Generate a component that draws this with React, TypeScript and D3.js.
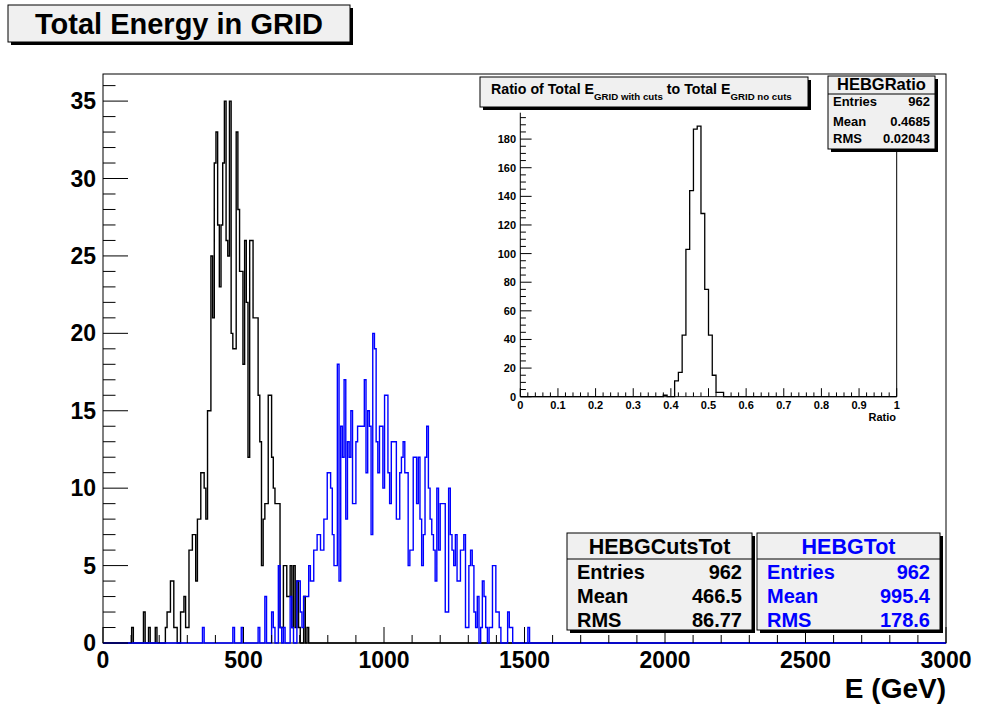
import React from 'react';
import * as d3 from 'd3';

const W = 982, H = 708;
const FONT = "'Liberation Sans', Arial, Helvetica, sans-serif";

// ---------- main histograms: 500 bins of 6 GeV over 0..3000 ----------
const BIN_W = 6;
const cutsStart = 102; // lower edge (GeV) of first listed bin
const cutsCounts = [
  1, 0, 0, 0, 0, 0, 0, 2, 0, 0, 1, 0, 0, 0, 1, 0, 0, 0, 0, 0, // 102..216
  1, 2, 2, 4, 4, 1, 1, 0, 0, 2, 2, 3, 1, 1, 6, 6, 7, 7, 4, 8, // 222..336
  8, 11, 11, 10, 8, 15, 15, 25, 21, 31, 33, 27, 23, 27, 31, 35, 26, 25, 35, 20, // 342..456
  19, 19, 33, 28, 24, 24, 18, 26, 22, 12, 26, 26, 21, 21, 21, 16, 13, 5, 8, 9, // 462..576
  9, 16, 16, 12, 10, 9, 9, 9, 1, 1, 5, 5, 3, 3, 5, 1, 5, 1, 4, 1, // 582..696
  0, 0, 3, 0, 1, // 702..726
];
const totStart = 354;
const totCounts = [
  1, 0, 0, 0, 0, 0, 0, 0, 0, 0, 0, 0, 0, 0, 0, 0, 0, 0, 1, 0, // 354..468
  0, 0, 0, 1, 0, 0, 0, 0, 0, 0, 0, 0, 0, 1, 0, 0, 0, 3, 0, 0, // 474..588
  0, 2, 1, 0, 0, 5, 1, 0, 1, 0, 0, 0, 3, 1, 0, 0, // 594..684
  4, 4, 2, 1, 3, 3, 3, 5, 4, 4, // 690..744
  6, 6, 7, 7, 6, 6, 8, 8, 11, 11, // 750..804
  10, 7, 5, 5, 18, 4, 14, 12, 17, 8, // 810..864
  13, 12, 15, 9, 9, 13, 14, 14, 14, 14, // 870..924
  17, 11, 15, 14, 7, 20, 19, 13, 11, 14, // 930..984
  14, 10, 16, 16, 11, 9, 13, 13, 13, 8, // 990..1044
  8, 11, 12, 13, 11, 11, 5, 6, 6, 12, // 1050..1104
  12, 9, 12, 8, 5, 7, 12, 14, 10, 8, // 1110..1164
  7, 6, 4, 10, 6, 9, 9, 9, 2, 2, // 1170..1224
  10, 7, 6, 5, 7, 4, 4, 6, 6, 7, // 1230..1284
  1, 1, 5, 6, 5, 2, 1, 3, 0, 1, // 1290..1344
  4, 3, 1, 0, 1, 1, 5, 5, 2, 2, // 1350..1404
  1, 0, 0, 0, 0, 2, 1, 1, 0, 0, // 1410..1464
  0, 0, 0, 0, 0, 0, 0, 1, // 1470..1512
];

// ---------- inset ratio histogram: 100 bins over 0..1 ----------
const RATIO_BIN_W = 0.01;
const ratioStart = 0.38;
const ratioCounts = [1, 0, 0, 11, 17, 43, 103, 144, 187, 189, 128, 75, 43, 15, 3, 3];

// ---------- ticks / labels ----------
const mainXTicks = [0, 500, 1000, 1500, 2000, 2500, 3000];
const mainYTicks = [0, 5, 10, 15, 20, 25, 30, 35];
const insetXTicks = [0, 0.1, 0.2, 0.3, 0.4, 0.5, 0.6, 0.7, 0.8, 0.9, 1];
const insetYTicks = [0, 20, 40, 60, 80, 100, 120, 140, 160, 180];

const statsCuts = [["Entries", "962"], ["Mean", "466.5"], ["RMS", "86.77"]];
const statsTot = [["Entries", "962"], ["Mean", "995.4"], ["RMS", "178.6"]];
const statsRatio = [["Entries", "962"], ["Mean", "0.4685"], ["RMS", "0.02043"]];

function histPath(start: number, counts: number[], bw: number, lo: number, hi: number,
  x: d3.ScaleLinear<number, number>, y: d3.ScaleLinear<number, number>) {
  const n = Math.round((hi - lo) / bw);
  const s0 = Math.round((start - lo) / bw);
  const p = d3.path();
  p.moveTo(x(lo), y(0));
  for (let i = 0; i < n; i++) {
    const v = i >= s0 && i - s0 < counts.length ? counts[i - s0] : 0;
    const a = lo + i * bw, b = lo + (i + 1) * bw;
    p.lineTo(x(a), y(v));
    p.lineTo(x(b), y(v));
  }
  p.lineTo(x(hi), y(0));
  return p.toString();
}

function StatsBox({ x, y, w, h, title, rows, color, titleSize, rowSize, sep, rowYs, titleY, pad }: any) {
  return (
    <g>
      <rect x={x + 3} y={y + 3} width={w} height={h} fill="#000" />
      <rect x={x} y={y} width={w} height={h} fill="#f0f0f0" stroke="#000" strokeWidth={1} />
      <line x1={x} x2={x + w} y1={sep} y2={sep} stroke="#000" strokeWidth={1} />
      <text x={x + w / 2} y={titleY} textAnchor="middle" fontSize={titleSize} fontWeight="bold" fill={color}>{title}</text>
      {rows.map((r: string[], i: number) => (
        <g key={i}>
          <text x={x + pad} y={rowYs[i]} fontSize={rowSize} fontWeight="bold" fill={color}>{r[0]}</text>
          <text x={x + w - pad} y={rowYs[i]} fontSize={rowSize} fontWeight="bold" fill={color} textAnchor="end">{r[1]}</text>
        </g>
      ))}
    </g>
  );
}

export default function App() {
  const L = 103, R = 946, T = 74, B = 643;
  const x = d3.scaleLinear().domain([0, 3000]).range([L, R]);
  const y = d3.scaleLinear().domain([0, 35 * 1.05]).range([B, T]);

  const iL = 520.3, iR = 896.7, iT = 112.7, iB = 396.7;
  const ix = d3.scaleLinear().domain([0, 1]).range([iL, iR]);
  const iy = d3.scaleLinear().domain([0, 189 * 1.05]).range([iB, iT]);

  const mainXMinor = d3.range(0, 3001, 100);
  const mainYMinor = d3.range(0, 37, 1);
  const insetXMinor = d3.range(0, 51).map((i) => i * 0.02);
  const insetYMinor = d3.range(0, 198, 5);

  return (
    <svg width={W} height={H} style={{ position: 'absolute', left: 0, top: 0, fontFamily: FONT }}>
      <rect x={0} y={0} width={W} height={H} fill="#fff" />

      {/* title box */}
      <rect x={11} y={8} width={342} height={37} fill="#000" />
      <rect x={8} y={5} width={342} height={37} fill="#f0f0f0" stroke="#000" />
      <text x={35} y={34} fontSize={29} fontWeight="bold">Total Energy in GRID</text>

      {/* main frame */}
      <rect x={L} y={T} width={R - L} height={B - T} fill="none" stroke="#000" strokeWidth={1} />

      {/* histograms */}
      <path d={histPath(cutsStart, cutsCounts, BIN_W, 0, 3000, x, y)} fill="none" stroke="#000" strokeWidth={1.4} />
      <path d={histPath(totStart, totCounts, BIN_W, 0, 3000, x, y)} fill="none" stroke="#0000ff" strokeWidth={1.4} />

      {/* main ticks */}
      {mainXMinor.map((v) => (
        <line key={'xm' + v} x1={x(v)} x2={x(v)} y1={B} y2={B - (v % 500 === 0 ? 16 : 8)} stroke="#000" />
      ))}
      {mainYMinor.map((v) => (
        <line key={'ym' + v} x1={L} x2={L + (v % 5 === 0 ? 25 : 12.5)} y1={y(v)} y2={y(v)} stroke="#000" />
      ))}
      {mainXTicks.map((v) => (
        <text key={'xl' + v} x={x(v)} y={668} textAnchor="middle" fontSize={23} fontWeight="bold">{v}</text>
      ))}
      {mainYTicks.map((v) => (
        <text key={'yl' + v} x={96} y={y(v) + 8} textAnchor="end" fontSize={23} fontWeight="bold">{v}</text>
      ))}
      <text x={946} y={698} textAnchor="end" fontSize={28} fontWeight="bold">E (GeV)</text>

      {/* stats boxes main */}
      <StatsBox x={567} y={533} w={185} h={97} title="HEBGCutsTot" rows={statsCuts} color="#000"
        titleSize={21.5} rowSize={20} sep={559} titleY={554} rowYs={[579, 603, 627]} pad={10} />
      <StatsBox x={757} y={533} w={183} h={97} title="HEBGTot" rows={statsTot} color="#0000ff"
        titleSize={21.5} rowSize={20} sep={559} titleY={554} rowYs={[579, 603, 627]} pad={10} />

      {/* inset */}
      <path d={histPath(ratioStart, ratioCounts, RATIO_BIN_W, 0, 1, ix, iy)} fill="none" stroke="#000" strokeWidth={1.3} />
      <line x1={iL} x2={iR} y1={iB} y2={iB} stroke="#000" />
      <line x1={iL} x2={iL} y1={iT} y2={iB} stroke="#000" />
      <line x1={iR} x2={iR} y1={iT} y2={iB} stroke="#000" />
      {insetXMinor.map((v, i) => (
        <line key={'ixm' + i} x1={ix(v)} x2={ix(v)} y1={iB} y2={iB - (i % 5 === 0 ? 8.5 : 4.3)} stroke="#000" />
      ))}
      {insetYMinor.map((v, i) => (
        <line key={'iym' + i} x1={iL} x2={iL + (i % 4 === 0 ? 11.3 : 5.6)} y1={iy(v)} y2={iy(v)} stroke="#000" />
      ))}
      {insetXTicks.map((v) => (
        <text key={'ixl' + v} x={ix(v)} y={409} textAnchor="middle" fontSize={11} fontWeight="bold">{v}</text>
      ))}
      {insetYTicks.map((v) => (
        <text key={'iyl' + v} x={516} y={iy(v) + 4} textAnchor="end" fontSize={11} fontWeight="bold">{v}</text>
      ))}
      <text x={896} y={421} textAnchor="end" fontSize={11} fontWeight="bold">Ratio</text>

      {/* inset title */}
      <rect x={483} y={80} width={328} height={30} fill="#000" />
      <rect x={480} y={77} width={328} height={30} fill="#f0f0f0" stroke="#000" />
      <text x={491} y={94} fontSize={14.2} fontWeight="bold">
        Ratio of Total E<tspan fontSize={9.7} dy={6}>GRID with cuts</tspan>
        <tspan dy={-6}> to Total E</tspan><tspan fontSize={9.7} dy={6}>GRID no cuts</tspan>
      </text>

      <StatsBox x={828} y={76} w={107} h={73} title="HEBGRatio" rows={statsRatio} color="#000"
        titleSize={16.5} rowSize={13} sep={94} titleY={90} rowYs={[106, 126, 143]} pad={5} />
    </svg>
  );
}
